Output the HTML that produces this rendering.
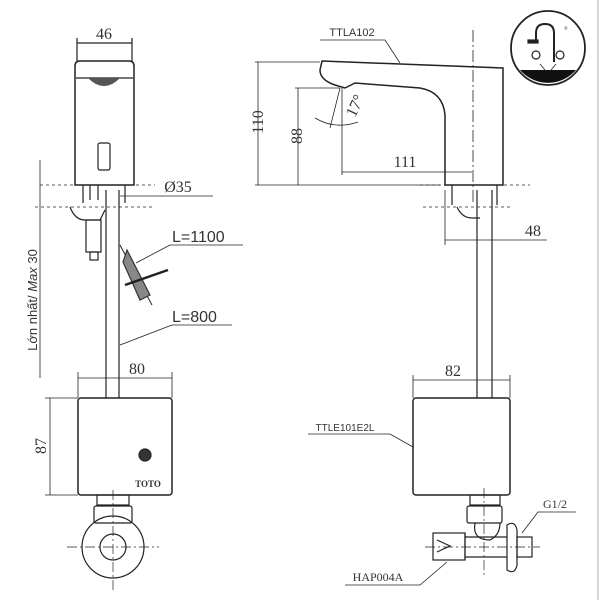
<!DOCTYPE html>
<html><head><style>body{margin:0;background:#fff}svg{display:block}text{font-family:"Liberation Serif",serif;fill:#333}</style></head><body>
<svg width="600" height="600" viewBox="0 0 600 600" xmlns="http://www.w3.org/2000/svg" fill="none" stroke="#222" stroke-width="1.2">
<line x1="598" y1="0" x2="598" y2="600" stroke="#bbb"/>
<!-- LEFT FRONT VIEW -->
<line x1="77" y1="43" x2="132" y2="43"/><line x1="77" y1="38" x2="77" y2="62"/><line x1="132" y1="38" x2="132" y2="62"/>
<text x="104" y="39" font-size="16" text-anchor="middle" stroke="none">46</text>
<path d="M75,185 V66 Q75,61 80,61 H129 Q134,61 134,66 V185 Z" stroke-width="1.5"/>
<line x1="76" y1="78" x2="133" y2="78"/>
<path d="M88,78 Q104,94 120,78 Z" fill="#555" stroke="none"/>
<rect x="98" y="143" width="12" height="27" rx="2"/>
<line x1="40" y1="185" x2="155" y2="185" stroke-dasharray="3,3" stroke-width="0.8"/>
<line x1="35" y1="207" x2="155" y2="207" stroke-dasharray="3,3" stroke-width="0.8"/>
<line x1="40" y1="160" x2="40" y2="378" stroke-width="0.8"/>
<line x1="120" y1="196" x2="213" y2="196" stroke-width="0.8"/>
<text x="178" y="192" font-size="16" text-anchor="middle" stroke="none">Ø35</text>
<path d="M83,185 V203 M125,185 V203 M90,185 V200 M98,185 V200"/>
<path d="M70,207 Q75,220 85,220 H100 L105,210"/>
<rect x="86" y="220" width="15" height="32"/><rect x="90" y="252" width="8" height="8"/>
<line x1="106" y1="190" x2="106" y2="398"/><line x1="119" y1="190" x2="119" y2="398"/>
<path d="M120,245 L152,305" stroke-width="1"/><path d="M127,250 L150,295 L140,300 L123,262 Z" fill="#888" stroke="#333"/>
<line x1="125" y1="285" x2="168" y2="270" stroke-width="2.5"/>
<line x1="136" y1="263" x2="170" y2="245" stroke-width="0.8"/><line x1="170" y1="245" x2="243" y2="245" stroke-width="0.8"/>
<text x="172" y="242" font-size="16" stroke="none" style="font-family:'Liberation Sans'">L=1100</text>
<line x1="120" y1="345" x2="172" y2="325" stroke-width="0.8"/><line x1="172" y1="325" x2="232" y2="325" stroke-width="0.8"/>
<text x="172" y="322" font-size="16" stroke="none" style="font-family:'Liberation Sans'">L=800</text>
<text transform="translate(37,300) rotate(-90)" font-size="13" text-anchor="middle" stroke="none" style="font-family:'Liberation Sans'">Lớn nhất/ <tspan font-style="italic">Max</tspan> 30</text>
<line x1="78" y1="378" x2="172" y2="378" stroke-width="0.8"/><line x1="78" y1="372" x2="78" y2="398" stroke-width="0.8"/><line x1="172" y1="372" x2="172" y2="398" stroke-width="0.8"/>
<text x="137" y="374" font-size="16" text-anchor="middle" stroke="none">80</text>
<rect x="78" y="398" width="94" height="97" rx="3" stroke-width="1.5"/>
<circle cx="145" cy="455" r="6" fill="#333"/>
<text x="148" y="487" font-size="9" font-weight="bold" text-anchor="middle" stroke="none">TOTO</text>
<line x1="50" y1="398" x2="50" y2="495" stroke-width="0.8"/><line x1="45" y1="398" x2="78" y2="398" stroke-width="0.8"/><line x1="45" y1="495" x2="78" y2="495" stroke-width="0.8"/>
<text transform="translate(46,446) rotate(-90)" font-size="16" text-anchor="middle" stroke="none">87</text>
<rect x="97" y="495" width="32" height="10"/><rect x="94" y="506" width="38" height="17" rx="2"/>
<circle cx="113" cy="547" r="31"/><circle cx="113" cy="547" r="13"/>
<line x1="67" y1="547" x2="159" y2="547" stroke-dasharray="10,3,2,3" stroke-width="0.7"/>
<line x1="113" y1="490" x2="113" y2="590" stroke-dasharray="10,3,2,3" stroke-width="0.7"/>
<!-- RIGHT SIDE VIEW -->
<text x="352" y="36" font-size="11" text-anchor="middle" stroke="none" style="font-family:'Liberation Sans'">TTLA102</text>
<path d="M320,40 H385 L400,63" stroke-width="0.8"/>
<path d="M322,61 L503,68 V185 H445 V115 Q443,92 420,88 L355,83 L345,88 L335,85 Q320,80 320,70 Z" stroke-width="1.5"/>
<line x1="473" y1="30" x2="473" y2="205" stroke-dasharray="12,3,2,3" stroke-width="0.8"/>
<line x1="258" y1="62" x2="258" y2="185" stroke-width="0.8"/><line x1="255" y1="62" x2="320" y2="62" stroke-width="0.8"/><line x1="255" y1="185" x2="440" y2="185" stroke-width="0.8"/>
<text transform="translate(263,122) rotate(-90)" font-size="16" text-anchor="middle" stroke="none">110</text>
<line x1="298" y1="88" x2="298" y2="185" stroke-width="0.8"/><line x1="295" y1="88" x2="340" y2="88" stroke-width="0.8"/>
<text transform="translate(302,136) rotate(-90)" font-size="16" text-anchor="middle" stroke="none">88</text>
<line x1="342" y1="88" x2="342" y2="175" stroke-width="0.8"/>
<line x1="340" y1="88" x2="330" y2="128" stroke-width="0.8"/>
<path d="M315,118 Q335,130 358,122" stroke-width="0.8"/>
<text transform="translate(355,118) rotate(-65)" font-size="16" stroke="none">17°</text>
<line x1="342" y1="172" x2="472" y2="172" stroke-width="0.8"/>
<text x="405" y="167" font-size="16" text-anchor="middle" stroke="none">111</text>
<line x1="420" y1="185" x2="530" y2="185" stroke-dasharray="3,3" stroke-width="0.8"/>
<line x1="423" y1="207" x2="510" y2="207" stroke-dasharray="3,3" stroke-width="0.8"/>
<path d="M452,185 V205 M497,185 V205 M457,207 Q462,218 472,218 H480"/>
<line x1="445" y1="190" x2="445" y2="245" stroke-width="0.8"/>
<line x1="445" y1="240" x2="547" y2="240" stroke-width="0.8"/>
<text x="533" y="236" font-size="16" text-anchor="middle" stroke="none">48</text>
<line x1="477" y1="190" x2="477" y2="398"/><line x1="492" y1="190" x2="492" y2="398"/>
<line x1="413" y1="380" x2="510" y2="380" stroke-width="0.8"/><line x1="413" y1="375" x2="413" y2="398" stroke-width="0.8"/><line x1="510" y1="375" x2="510" y2="398" stroke-width="0.8"/>
<text x="453" y="376" font-size="16" text-anchor="middle" stroke="none">82</text>
<rect x="413" y="398" width="97" height="97" rx="3" stroke-width="1.5"/>
<text x="345" y="431" font-size="10" text-anchor="middle" stroke="none" style="font-family:'Liberation Sans'">TTLE101E2L</text>
<path d="M308,434 H390 L413,447" stroke-width="0.8"/>
<rect x="470" y="495" width="30" height="10"/><rect x="467" y="506" width="35" height="17" rx="2"/>
<path d="M475,523 Q472,540 490,540 Q500,535 500,523"/>
<rect x="433" y="533" width="32" height="27"/><line x1="465" y1="533" x2="465" y2="560"/>
<path d="M465,537 H507 M465,557 H507"/>
<path d="M507,525 Q515,520 517,530 V565 Q515,575 507,570 Z"/>
<rect x="517" y="537" width="15" height="20"/>
<path d="M437,540 L450,546 L437,552"/>
<line x1="425" y1="547" x2="540" y2="547" stroke-dasharray="10,3,2,3" stroke-width="0.7"/>
<line x1="484" y1="488" x2="484" y2="575" stroke-dasharray="10,3,2,3" stroke-width="0.7"/>
<text x="555" y="508" font-size="12" text-anchor="middle" stroke="none">G1/2</text>
<path d="M576,512 H538 L522,533" stroke-width="0.8"/>
<text x="378" y="581" font-size="12" text-anchor="middle" stroke="none">HAP004A</text>
<path d="M345,585 H420 L447,562" stroke-width="0.8"/>
<!-- LOGO -->
<circle cx="548" cy="48" r="37" stroke-width="1.8"/>
<path d="M520,70 H576 A37,37 0 0 1 520,70 Z" fill="#111" stroke="none"/>
<path d="M536,40 V33 Q536,24 545,24 Q554,24 554,33 V62" stroke-width="2"/>
<rect x="528" y="40" width="10" height="3" fill="#222"/>
<circle cx="536" cy="55" r="4"/><circle cx="560" cy="55" r="4"/>
<path d="M540,64 L545,70 M556,64 L551,70" stroke-width="0.8"/>
<text x="564" y="30" font-size="5" stroke="none">®</text>
</svg>
</body></html>
